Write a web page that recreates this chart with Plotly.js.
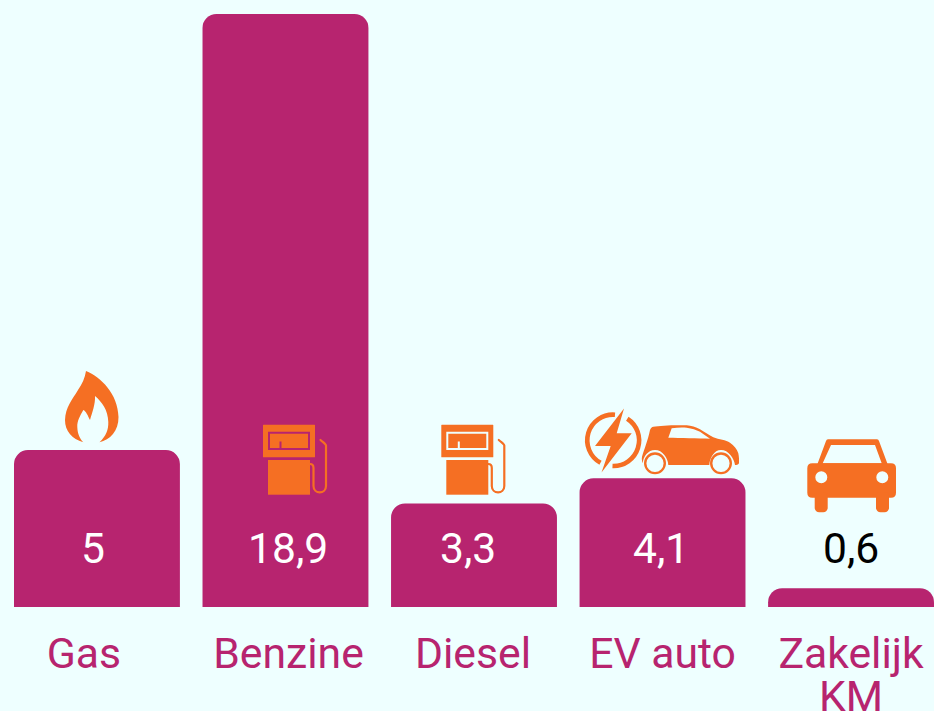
<!DOCTYPE html>
<html>
<head>
<meta charset="utf-8">
<script src="https://cdn.plot.ly/plotly-3.0.1.min.js"></script>
<style>html,body{margin:0;padding:0;background:#eeffff;overflow:hidden}#c{width:934px;height:711px}</style>
</head>
<body>
<div id="c"></div>
<script>
const categories = ['Gas', 'Benzine', 'Diesel', 'EV auto', 'Zakelijk'];
const secondLines = ['', '', '', '', 'KM'];
const values = [5, 18.9, 3.3, 4.1, 0.6];
const valueLabels = ['5', '18,9', '3,3', '4,1', '0,6'];
const labelColors = ['#ffffff', '#ffffff', '#ffffff', '#ffffff', '#000000'];
const categoryShiftPx = [-13, 3, -1, 0, 0];
const valueShiftPx = [-4, 3, -6, -2, 0];

const BAR = '#b7246f', ORANGE = '#f56f23', BG = '#eeffff';
const W = 934, H = 711, L = 14, R = 0, T = 14, B = 104;
const PW = W - L - R, PH = H - T - B;
const FONT = 'Roboto, sans-serif';
const PX_PER_CAT = PW / 4.88;

function icon(x, y, w, h, vx, vy, inner) {
  const svg = `<svg xmlns="http://www.w3.org/2000/svg" width="${w * 4}" height="${h * 4}" viewBox="${vx} ${vy} ${w} ${h}">${inner}</svg>`;
  return {
    source: 'data:image/svg+xml;charset=utf-8,' + encodeURIComponent(svg),
    xref: 'paper', yref: 'paper',
    x: (x - L) / PW, y: (H - B - y) / PH,
    sizex: w / PW, sizey: h / PH,
    xanchor: 'left', yanchor: 'top', sizing: 'stretch', layer: 'above'
  };
}

const flame = `<path fill="${ORANGE}" d="M86 371 C101 377 118 394 118.5 417 C118.7 431 110 440 99.5 442.3 C106 436 108.5 430 108.3 422 C108 410 102 402 95 396 C95.5 404 92 413 90 420 C88 416 86 411 83.3 410 C80 416 77 421 77.3 427 C77.5 434 80 439 83.3 442.3 C72 439 65 431 65 420 C65.5 407 72 400 78 390 C82 384 85 378 86 371 Z"/>`;

const pump = `<path fill="${ORANGE}" fill-rule="evenodd" d="M263.5 424.7 H314.5 Q315 424.7 315 425.2 V456.8 Q315 457.3 314.5 457.3 H263.5 Q263 457.3 263 456.8 V425.2 Q263 424.7 263.5 424.7 Z M268 431.7 V450 H310 V431.7 Z M270 433.7 H308 V448 H281.5 V441.5 H279.5 V448 H270 Z"/>
<rect fill="${ORANGE}" x="268" y="460" width="42" height="34.7"/>
<path fill="none" stroke="${ORANGE}" stroke-width="2.2" stroke-linecap="round" d="M310 464 C312.5 464 313.5 466 313.5 468 V486 C313.5 494.5 326 494.5 326 486 V445.5 C326 444 324 443 320.5 440"/>`;

const ev = `<g fill="none" stroke="${ORANGE}" stroke-width="4.6"><path d="M615 414.7 A25.7 25.7 0 0 0 600.5 462.8"/><path d="M627.3 418.7 A25.7 25.7 0 0 1 612.5 466"/></g>
<path fill="${ORANGE}" d="M624 408.5 L595 446 H610.7 L601.5 472.5 L631.7 433.3 H616.7 Z"/>
<path fill="${ORANGE}" fill-rule="evenodd" d="M642 456.7 C644 450 648 440 650 430 C650.7 428 652 427 653.3 426.7 C660 425.5 675 424.8 686.7 425.3 C691 425.5 696 427 700 429.3 C705 432 709 435.5 713.3 437.3 C719 439.5 726 440 730 442.7 C734 445.5 737 449 738.3 453.3 C739 456.5 739.2 460 739 463.3 C738 465 736.5 465 735 465 C734 458 728.5 450 721 450 C714 450 709.7 458 709.3 465 H668.3 C668 458 662.5 450 655 450 C648 450 643.3 456.5 642.7 463.3 C642 461 641.5 459 642 456.7 Z M668.3 437.7 L671.7 428.3 C677 427.5 682 427.3 686.7 427.7 C692 428.3 696 430 700 431.7 L710 438.7 C698 438.3 680 437.8 668.3 437.7 Z"/>
<g fill="none" stroke="${ORANGE}" stroke-width="2.4"><circle cx="655" cy="463.3" r="9.8"/><circle cx="721" cy="463.3" r="9.8"/></g>`;

const car = `<path fill="${ORANGE}" fill-rule="evenodd" d="M828 439.3 H877 Q878.5 439.3 879 441 L888.3 466 H816.7 L826 441 Q826.5 439.3 828 439.3 Z M831 445 L822.7 463.3 H881.7 L875 445 Z"/>
<path fill="${ORANGE}" fill-rule="evenodd" d="M812.3 463.3 H891 Q896 463.3 896 468.3 V492.7 Q896 497.7 891 497.7 H812.3 Q807.3 497.7 807.3 492.7 V468.3 Q807.3 463.3 812.3 463.3 Z M815.3 477.3 a6 6 0 1 0 12 0 a6 6 0 1 0 -12 0 Z M876.3 477.3 a6 6 0 1 0 12 0 a6 6 0 1 0 -12 0 Z"/>
<rect fill="${ORANGE}" x="814.7" y="492" width="13" height="20.3" rx="4.5"/>
<rect fill="${ORANGE}" x="876" y="492" width="13" height="20.3" rx="4.5"/>`;

const images = [
  icon(60, 368, 62, 78, 60, 368, flame),
  icon(260, 422, 70, 75, 260, 422, pump),
  icon(438.3, 422, 70, 75, 260, 422, pump),
  icon(582, 405, 160, 70, 582, 405, ev),
  icon(804, 436, 96, 80, 804, 436, car)
];

const annotations = values.map((v, i) => ({
  x: i, xref: 'x', yref: 'paper', y: (H - B - 548) / PH, xshift: valueShiftPx[i],
  text: valueLabels[i], showarrow: false, xanchor: 'center', yanchor: 'middle',
  font: {family: FONT, size: 42.6, color: labelColors[i]}
}));
secondLines.forEach((t, i) => {
  if (t) annotations.push({
    x: i, xref: 'x', yref: 'paper', y: (H - B - 696) / PH,
    text: t, showarrow: false, xanchor: 'center', yanchor: 'middle',
    font: {family: FONT, size: 42.7, color: BAR}
  });
});

Plotly.newPlot('c', [{
  type: 'bar',
  x: categories.map((c, i) => i),
  y: values,
  marker: {color: BAR, line: {width: 0}},
  width: 0.88,
  hoverinfo: 'skip'
}], {
  width: W, height: H,
  margin: {l: L, r: R, t: T, b: B, pad: 0},
  paper_bgcolor: BG, plot_bgcolor: BG,
  barcornerradius: 14,
  showlegend: false,
  xaxis: {
    range: [-0.44, 4.44], tickmode: 'array',
    tickvals: categories.map((c, i) => i + categoryShiftPx[i] / PX_PER_CAT), ticktext: categories,
    tickangle: 0, showgrid: false, zeroline: false, showline: false,
    ticks: 'outside', ticklen: 9, tickcolor: 'rgba(0,0,0,0)',
    tickfont: {family: FONT, size: 42.7, color: BAR}, automargin: false, fixedrange: true
  },
  yaxis: {
    range: [0, 18.9], visible: false, fixedrange: true
  },
  images, annotations
}, {displayModeBar: false, staticPlot: true});
</script>
</body>
</html>
